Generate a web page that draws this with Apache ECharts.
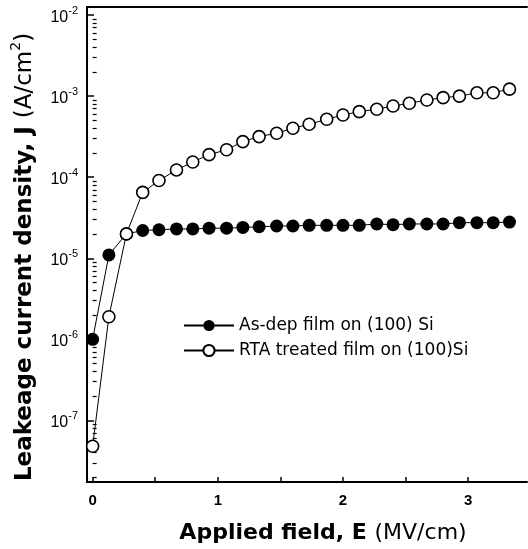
<!DOCTYPE html>
<html>
<head>
<meta charset="utf-8">
<script src="https://cdn.jsdelivr.net/npm/echarts@6/dist/echarts.min.js"></script>
<style>
html,body{margin:0;padding:0;background:#fff;}
#c{width:528px;height:549px;}
</style>
</head>
<body>
<div id="c"></div>
<script>
// Applied field E (MV/cm)
const fieldValues = [0, 0.13, 0.27, 0.4, 0.53, 0.67, 0.8, 0.93, 1.07, 1.2, 1.33, 1.47, 1.6, 1.73, 1.87, 2.0, 2.13, 2.27, 2.4, 2.53, 2.67, 2.8, 2.93, 3.07, 3.2, 3.33];
// As-dep film on (100) Si, J (A/cm2)
const asDepValues = [1.0e-6, 1.1e-5, 2.0e-5, 2.2e-5, 2.25e-5, 2.3e-5, 2.3e-5, 2.35e-5, 2.35e-5, 2.4e-5, 2.45e-5, 2.5e-5, 2.5e-5, 2.55e-5, 2.55e-5, 2.55e-5, 2.55e-5, 2.65e-5, 2.6e-5, 2.65e-5, 2.65e-5, 2.65e-5, 2.75e-5, 2.75e-5, 2.75e-5, 2.8e-5];
// RTA treated film on (100)Si, J (A/cm2)
const rtaValues = [4.8e-8, 1.9e-6, 2.0e-5, 6.5e-5, 9.1e-5, 1.23e-4, 1.54e-4, 1.9e-4, 2.18e-4, 2.75e-4, 3.17e-4, 3.49e-4, 4.02e-4, 4.5e-4, 5.19e-4, 5.86e-4, 6.44e-4, 6.89e-4, 7.57e-4, 8.17e-4, 8.97e-4, 9.59e-4, 1.0e-3, 1.1e-3, 1.1e-3, 1.22e-3];
const seriesNames = ['As-dep film on (100) Si', 'RTA treated film on (100)Si'];
// axis ticks
const xLabelValues = [0, 1, 2, 3];
const xTickValues = [0, 0.5, 1, 1.5, 2, 2.5, 3];
const yDecadeExponents = [-7, -6, -5, -4, -3, -2];
const yMinorMultipliers = [2, 3, 4, 5, 6, 7, 8, 9];
const yMinorDecades = [-8, -7, -6, -5, -4, -3, -2];
const xRange = [-0.045, 3.47];
const yRangeLog = [-7.76, -1.90];

const FONT = '"Liberation Sans", Arial, sans-serif';
const WFONT = '"DejaVu Sans", sans-serif';
const toPairs = (ys) => fieldValues.map((x, i) => [x, Math.log10(ys[i])]);
const yMinorLog = [];
yMinorDecades.forEach(d => yMinorMultipliers.forEach(m => {
  const v = Math.log10(m) + d;
  if (v > yRangeLog[0] && v < yRangeLog[1]) yMinorLog.push(v);
}));

const chart = echarts.init(document.getElementById('c'), null, {renderer: 'canvas'});
const grid = {left: 87, right: 1, top: 7, bottom: 67, containLabel: false, outerBoundsMode: 'none'};
chart.setOption({
  backgroundColor: '#fff',
  animation: false,
  grid: grid,
  legend: {
    left: 183, top: 317, orient: 'vertical', padding: 0,
    itemWidth: 50, itemHeight: 14, itemGap: 8,
    textStyle: {fontFamily: WFONT, fontSize: 17, color: '#000'},
    data: seriesNames
  },
  xAxis: [{
    type: 'value', min: xRange[0], max: xRange[1], position: 'bottom',
    axisLine: {show: true, onZero: false, lineStyle: {color: '#000', width: 2}},
    axisTick: {show: true, inside: true, length: 5, customValues: xTickValues, lineStyle: {color: '#000', width: 1.5}},
    axisLabel: {show: true, customValues: xLabelValues, margin: 11, fontFamily: FONT, fontSize: 15, color: '#000', fontWeight: 'bold'},
    splitLine: {show: false}
  }, {
    type: 'value', min: xRange[0], max: xRange[1], position: 'top',
    axisLine: {show: true, onZero: false, lineStyle: {color: '#000', width: 2}},
    axisTick: {show: false}, axisLabel: {show: false}, splitLine: {show: false}
  }],
  yAxis: [{
    type: 'value', min: yRangeLog[0], max: yRangeLog[1], position: 'left',
    axisLine: {show: true, onZero: false, lineStyle: {color: '#000', width: 2}},
    axisTick: {show: true, inside: true, length: 7, customValues: yDecadeExponents, lineStyle: {color: '#000', width: 1.5}},
    axisLabel: {
      show: true, customValues: yDecadeExponents, margin: 9,
      formatter: v => '{b|10}{s|' + Math.round(v) + '}',
      rich: {
        b: {fontFamily: FONT, fontSize: 16, color: '#000', verticalAlign: 'bottom', lineHeight: 20},
        s: {fontFamily: FONT, fontSize: 11, color: '#000', verticalAlign: 'top', lineHeight: 20}
      }
    },
    splitLine: {show: false}
  }, {
    type: 'value', min: yRangeLog[0], max: yRangeLog[1], position: 'left',
    axisLine: {show: false},
    axisTick: {show: true, inside: true, length: 4, customValues: yMinorLog, lineStyle: {color: '#000', width: 1.2}},
    axisLabel: {show: false}, splitLine: {show: false}
  }],
  series: [{
    name: seriesNames[0], type: 'line', xAxisIndex: 0, yAxisIndex: 0,
    data: toPairs(asDepValues),
    symbol: 'circle', symbolSize: 13,
    lineStyle: {color: '#000', width: 1},
    itemStyle: {color: '#000', borderColor: '#000', borderWidth: 0},
    z: 2
  }, {
    name: seriesNames[1], type: 'line', xAxisIndex: 0, yAxisIndex: 0,
    data: toPairs(rtaValues),
    symbol: 'circle', symbolSize: 12,
    lineStyle: {color: '#000', width: 1},
    itemStyle: {color: '#fff', borderColor: '#000', borderWidth: 1.6},
    z: 3
  }],
  graphic: [{
    type: 'text', x: 23, y: 257, rotation: Math.PI / 2,
    style: {
      text: '{b|Leakeage current density, J }{n|(A/cm}{s|2}{n|)}',
      align: 'center', verticalAlign: 'middle',
      rich: {
        b: {fontFamily: WFONT, fontSize: 23, fontWeight: 'bold', fill: '#000', verticalAlign: 'bottom', lineHeight: 28},
        n: {fontFamily: WFONT, fontSize: 23, fill: '#000', verticalAlign: 'bottom', lineHeight: 28},
        s: {fontFamily: WFONT, fontSize: 14, fill: '#000', verticalAlign: 'top', lineHeight: 28}
      }
    }
  }, {
    type: 'text', x: 323, y: 533,
    style: {
      text: '{b|Applied field, E }{n|(MV/cm)}',
      align: 'center', verticalAlign: 'middle',
      rich: {
        b: {fontFamily: WFONT, fontSize: 22, fontWeight: 'bold', fill: '#000'},
        n: {fontFamily: WFONT, fontSize: 22, fill: '#000'}
      }
    }
  }]
});
</script>
</body>
</html>
